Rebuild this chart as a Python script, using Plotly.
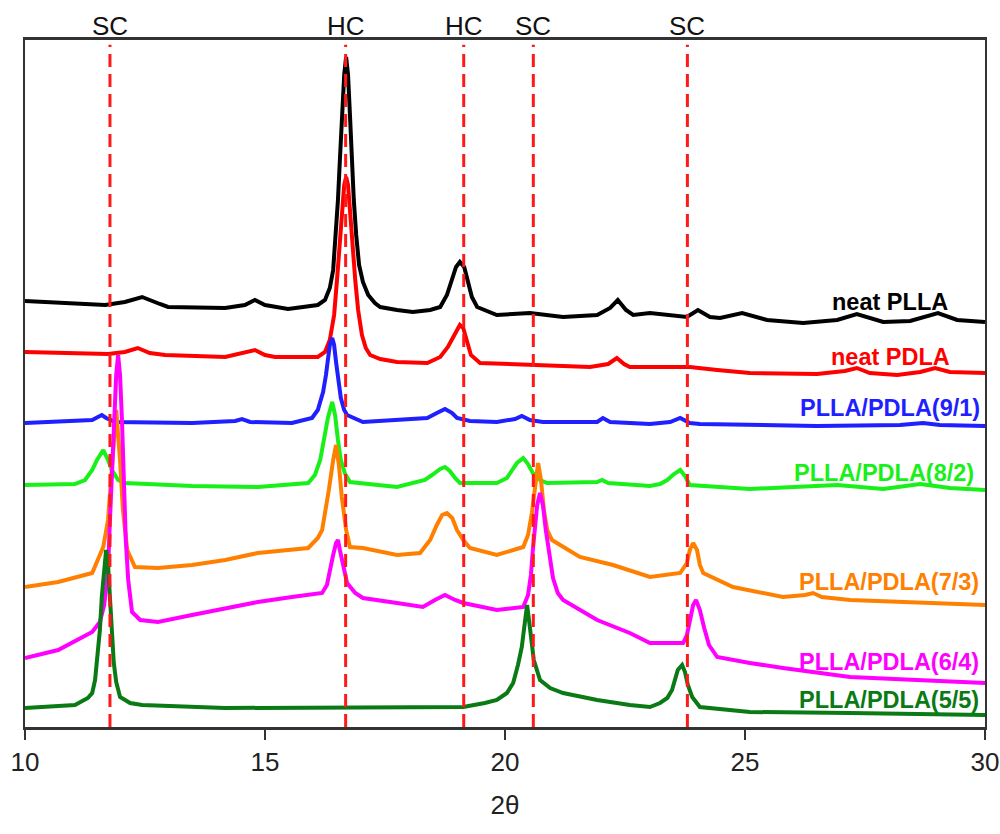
import plotly.graph_objects as go

# XRD patterns of PLLA, PDLA and their blends (intensity in arbitrary units, vertically offset)
two_theta_plla = [10.00, 11.67, 12.08, 12.44, 12.81, 12.98, 14.17, 14.58, 14.79, 15.00, 15.48, 16.10, 16.25,
                  16.35, 16.42, 16.48, 16.52, 16.56, 16.60, 16.65, 16.69, 16.73, 16.77, 16.81, 16.85, 16.90,
                  16.96, 17.04, 17.15, 17.29, 17.40, 17.75, 18.08, 18.44, 18.65, 18.79, 18.90, 18.98, 19.06,
                  19.15, 19.23, 19.31, 19.42, 19.83, 20.52, 21.21, 21.92, 22.19, 22.35, 22.52, 22.67, 23.02,
                  23.79, 24.02, 24.27, 24.48, 24.94, 25.46, 26.21, 26.92, 27.33, 27.88, 28.44, 29.02, 29.42, 30.00]
int_plla = [426, 422, 425, 430, 423, 420, 419, 422, 427, 422, 418, 422, 427,
            439, 457, 492, 527, 567, 612, 652, 670, 652, 612, 567, 527, 492,
            462, 445, 432, 424, 420, 417, 415, 417, 420, 432, 447, 460, 465,
            460, 445, 430, 420, 412, 414, 410, 412, 419, 427, 417, 412, 414,
            410, 417, 410, 409, 414, 407, 404, 407, 413, 405, 406, 414, 407, 405]

two_theta_pdla = [10.00, 10.73, 11.73, 12.08, 12.35, 12.60, 12.92, 14.17, 14.58, 14.79, 15.00, 15.21, 16.10,
                  16.25, 16.35, 16.44, 16.50, 16.56, 16.60, 16.65, 16.69, 16.73, 16.77, 16.81, 16.88, 16.94,
                  17.02, 17.10, 17.19, 17.40, 17.75, 18.38, 18.65, 18.81, 18.94, 19.02, 19.06, 19.13, 19.21,
                  19.29, 19.48, 20.52, 21.77, 22.15, 22.33, 22.48, 22.60, 23.02, 23.85, 24.42, 25.10, 26.50,
                  27.08, 27.33, 27.60, 28.17, 28.65, 28.96, 29.27, 30.00]
int_pdla = [375, 374, 373, 375, 379, 374, 372, 370, 374, 377, 372, 370, 370,
            375, 387, 412, 447, 487, 517, 542, 550, 542, 517, 487, 447, 417,
            392, 379, 372, 368, 365, 364, 370, 380, 392, 400, 402, 399, 385,
            372, 364, 362, 360, 363, 369, 363, 360, 360, 360, 357, 354, 353,
            356, 359, 354, 352, 355, 359, 355, 354]

two_theta_91 = [10.00, 11.40, 11.52, 11.60, 11.69, 11.88, 13.48, 14.38, 14.52, 14.69, 15.56, 15.98, 16.10,
                16.21, 16.27, 16.31, 16.35, 16.40, 16.44, 16.48, 16.52, 16.58, 16.65, 16.71, 17.04, 17.75,
                18.38, 18.58, 18.75, 18.90, 19.00, 19.27, 19.83, 20.21, 20.35, 20.52, 20.79, 21.92, 22.04,
                22.19, 23.02, 23.44, 23.65, 23.85, 24.06, 26.50, 28.23, 28.71, 29.06, 30.00]
int_91 = [304, 307, 310, 312, 309, 305, 304, 306, 308, 305, 304, 309, 317,
          335, 352, 367, 382, 389, 382, 365, 347, 329, 317, 312, 305, 307,
          309, 314, 318, 314, 309, 306, 305, 308, 311, 307, 305, 305, 309,
          305, 303, 305, 309, 304, 303, 301, 302, 304, 302, 301]

two_theta_82 = [10.00, 11.04, 11.25, 11.40, 11.50, 11.63, 11.73, 11.81, 11.94, 12.08, 13.48, 14.85, 15.90,
                16.04, 16.15, 16.23, 16.31, 16.40, 16.46, 16.52, 16.58, 16.67, 16.77, 17.75, 18.33, 18.48,
                18.65, 18.75, 18.85, 18.96, 19.06, 19.83, 20.04, 20.15, 20.25, 20.38, 20.48, 20.58, 20.73,
                20.88, 21.92, 22.02, 22.15, 23.02, 23.23, 23.38, 23.52, 23.65, 23.75, 23.85, 25.10, 26.92,
                27.88, 28.65, 29.27, 30.00]
int_82 = [242, 243, 247, 257, 267, 277, 267, 257, 247, 244, 241, 240, 244,
          252, 267, 287, 309, 325, 312, 287, 267, 253, 245, 240, 247, 252,
          258, 260, 256, 249, 244, 244, 249, 257, 264, 269, 263, 254, 247,
          244, 245, 247, 244, 241, 243, 247, 253, 257, 251, 242, 238, 242,
          238, 243, 239, 237]

two_theta_73 = [10.00, 10.69, 11.40, 11.63, 11.73, 11.81, 11.90, 11.98, 12.04, 12.13, 12.23, 12.29, 12.77,
                13.48, 14.17, 14.85, 15.90, 16.10, 16.19, 16.27, 16.33, 16.42, 16.48, 16.54, 16.60, 16.69,
                16.77, 17.04, 17.75, 18.23, 18.44, 18.58, 18.69, 18.79, 18.90, 19.00, 19.13, 19.27, 19.83,
                20.38, 20.48, 20.56, 20.63, 20.69, 20.75, 20.81, 20.88, 20.98, 21.08, 21.56, 22.25, 23.02,
                23.65, 23.79, 23.85, 23.92, 24.00, 24.06, 24.13, 24.75, 25.79, 26.25, 26.42, 26.60, 27.19,
                28.58, 30.00]
int_73 = [140, 145, 154, 180, 207, 257, 317, 267, 217, 177, 165, 160, 159,
          162, 167, 174, 179, 189, 197, 217, 237, 267, 282, 262, 230, 197,
          180, 179, 172, 174, 187, 202, 212, 214, 209, 197, 187, 179, 172,
          180, 192, 214, 242, 264, 247, 217, 197, 187, 184, 170, 162, 150,
          154, 164, 177, 184, 177, 162, 154, 140, 130, 132, 134, 130, 127,
          125, 122]

two_theta_64 = [10.00, 10.69, 11.40, 11.56, 11.65, 11.73, 11.77, 11.81, 11.85, 11.90, 11.94, 11.98, 12.02,
                12.06, 12.10, 12.15, 12.23, 12.40, 12.77, 13.48, 14.17, 14.85, 15.56, 16.19, 16.29, 16.35,
                16.42, 16.48, 16.52, 16.56, 16.63, 16.71, 16.88, 17.04, 17.75, 18.29, 18.54, 18.75, 18.96,
                19.13, 19.83, 20.38, 20.48, 20.54, 20.58, 20.63, 20.67, 20.73, 20.79, 20.85, 20.92, 21.00,
                21.10, 21.21, 21.92, 22.60, 23.02, 23.71, 23.79, 23.85, 23.92, 23.98, 24.06, 24.15, 24.25,
                24.42, 25.10, 25.79, 27.19, 28.58, 30.00]
int_64 = [69, 77, 95, 105, 122, 157, 207, 257, 307, 352, 372, 352, 307,
          247, 187, 147, 115, 107, 105, 112, 119, 125, 130, 134, 142, 157,
          172, 184, 187, 177, 160, 144, 134, 129, 124, 120, 127, 132, 127,
          124, 117, 120, 132, 152, 177, 202, 222, 234, 222, 197, 172, 149,
          134, 127, 107, 94, 84, 84, 92, 107, 122, 127, 117, 99, 82,
          70, 64, 59, 50, 47, 44]

two_theta_55 = [10.00, 11.04, 11.31, 11.40, 11.46, 11.50, 11.56, 11.60, 11.65, 11.69, 11.73, 11.77, 11.81,
                11.85, 11.90, 11.98, 12.19, 12.44, 14.17, 16.67, 19.13, 19.58, 19.83, 20.04, 20.17, 20.27,
                20.35, 20.42, 20.46, 20.50, 20.54, 20.60, 20.73, 20.94, 21.21, 21.92, 22.60, 23.02, 23.23,
                23.38, 23.48, 23.54, 23.60, 23.69, 23.75, 23.81, 23.90, 24.06, 25.10, 27.19, 30.00]
int_55 = [19, 22, 29, 34, 47, 64, 97, 130, 162, 177, 162, 130, 97,
          64, 45, 30, 24, 22, 19, 19, 20, 24, 27, 34, 44, 62,
          80, 107, 122, 107, 87, 67, 47, 39, 34, 27, 22, 20, 24,
          29, 37, 47, 57, 62, 55, 42, 30, 20, 15, 14, 12]

series_names = ["neat PLLA", "neat PDLA", "PLLA/PDLA(9/1)", "PLLA/PDLA(8/2)",
                "PLLA/PDLA(7/3)", "PLLA/PDLA(6/4)", "PLLA/PDLA(5/5)"]
series_x = [two_theta_plla, two_theta_pdla, two_theta_91, two_theta_82, two_theta_73, two_theta_64, two_theta_55]
series_y = [int_plla, int_pdla, int_91, int_82, int_73, int_64, int_55]
series_colors = ["#000000", "#ff0000", "#1f1fff", "#19f019", "#ff8000", "#ff00ff", "#0a7a14"]

# label anchor for each pattern (2θ, intensity)
label_x = [28.02, 28.04, 28.02, 27.90, 28.00, 28.00, 28.00]
label_y = [425, 370, 319, 254, 145, 65, 27]

# reference reflections of stereocomplex (SC) and homocrystal (HC)
ref_positions = [11.77, 16.68, 19.14, 20.59, 23.80]
ref_labels = ["SC", "HC", "HC", "SC", "SC"]

FONT = "Liberation Sans, Arial, sans-serif"

fig = go.Figure()
for name, xs, ys, col in zip(series_names, series_x, series_y, series_colors):
    fig.add_trace(go.Scatter(x=xs, y=ys, mode="lines", name=name,
                             line=dict(color=col, width=4), showlegend=False))

for name, lx, ly, col in zip(series_names, label_x, label_y, series_colors):
    fig.add_annotation(x=lx, y=ly, xref="x", yref="y", text="<b>%s</b>" % name, showarrow=False,
                       xanchor="center", yanchor="middle",
                       font=dict(family=FONT, size=23.5, color=col))

for pos, lab in zip(ref_positions, ref_labels):
    fig.add_shape(type="line", xref="x", yref="paper", x0=pos, x1=pos, y0=0, y1=0.993,
                  line=dict(color="#ff1a1a", width=3, dash="13px,7px"))
    fig.add_annotation(x=pos, y=1.0204, xref="x", yref="paper", text=lab, showarrow=False,
                       xanchor="center", yanchor="middle",
                       font=dict(family=FONT, size=26, color="#111111"))

fig.update_layout(
    width=1000, height=834,
    margin=dict(l=25, r=15, t=40, b=107),
    paper_bgcolor="white", plot_bgcolor="white",
    font=dict(family=FONT, color="#222222"),
    xaxis=dict(range=[10, 30], tickvals=[10, 15, 20, 25, 30], ticks="outside", ticklen=10,
               tickwidth=2, tickcolor="#333333", showline=True, linewidth=2.5, linecolor="#333333",
               mirror=True, showgrid=False, zeroline=False, automargin=False,
               tickfont=dict(family=FONT, size=26, color="#222222"),
               title=dict(text="2θ", font=dict(family=FONT, size=26, color="#222222"), standoff=20)),
    yaxis=dict(range=[0, 687], showticklabels=False, ticks="", showline=True, linewidth=2,
               linecolor="#333333", mirror=True, showgrid=False, zeroline=False, automargin=False),
)

fig.write_html("out.html")
